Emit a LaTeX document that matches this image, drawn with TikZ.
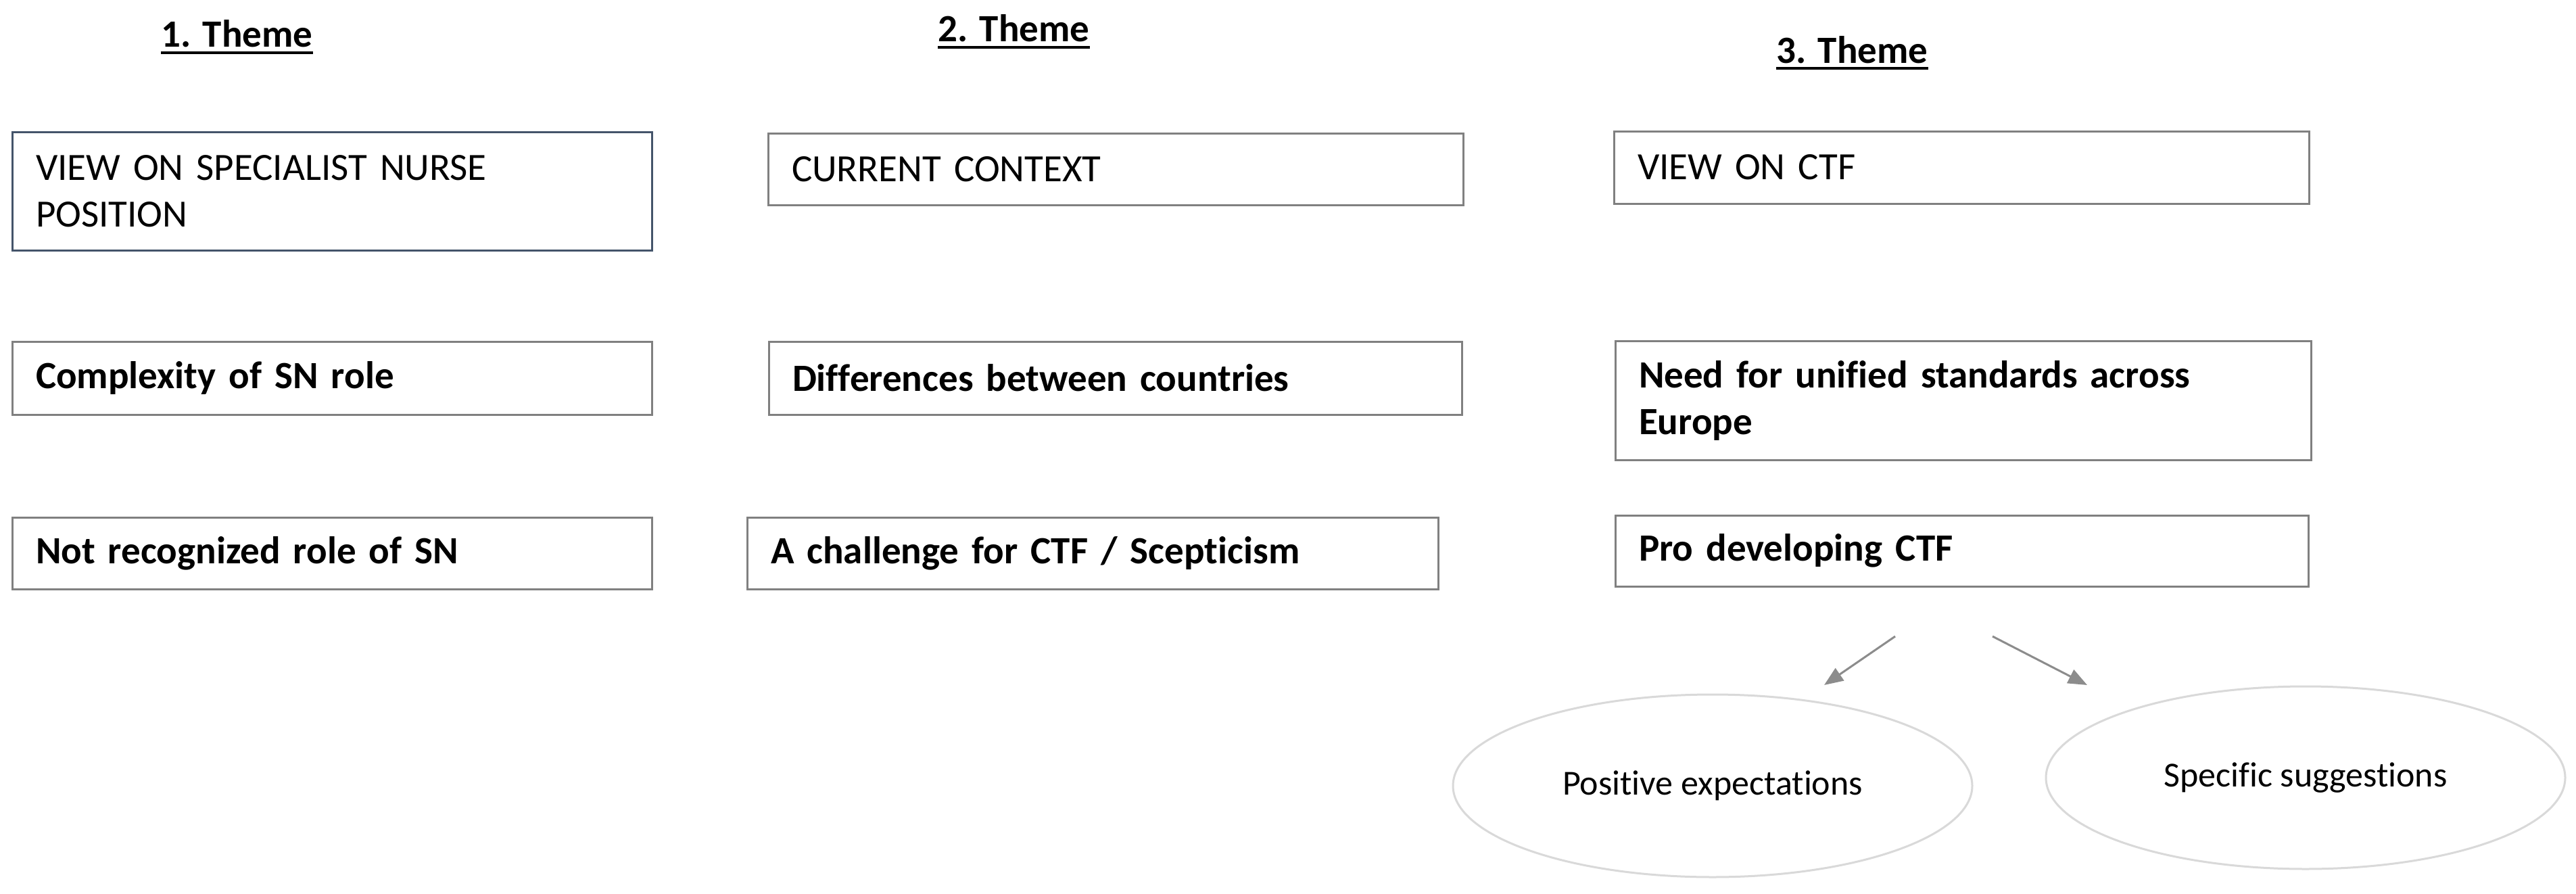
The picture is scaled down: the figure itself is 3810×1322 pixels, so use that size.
\documentclass[tikz,border=0pt]{standalone}
\usepackage{fontspec}
\setmainfont[Ligatures=NoCommon]{Carlito}
\usetikzlibrary{shapes.geometric,arrows.meta}
\definecolor{boxgray}{HTML}{808080}
\definecolor{boxdark}{HTML}{44546A}
\definecolor{ellgray}{HTML}{D9D9D9}
\definecolor{arrgray}{HTML}{8C8C8C}
\begin{document}
\begin{tikzpicture}[x=1pt,y=-1pt,
  plainbox/.style={draw=boxgray, line width=3pt, rectangle, inner xsep=35pt, inner ysep=0pt,
    align=left, font=\fontsize{57}{69}\selectfont},
  boldbox/.style={plainbox, font=\fontsize{57}{69}\selectfont\bfseries},
  themetitle/.style={inner sep=0pt, anchor=base, font=\fontsize{57}{69}\selectfont\bfseries},
  uline/.style={line width=4pt, black},
  oval/.style={ellipse, draw=ellgray, line width=3pt, inner sep=0pt,
    minimum width=768pt, minimum height=270pt, font=\fontsize{52}{62}\selectfont},
  conn/.style={draw=arrgray, line width=3pt, -{Triangle[length=28pt,width=22pt]}, arrgray}
]
\fill[white] (0,0) rectangle (3810,1322);
\useasboundingbox (0,0) rectangle (3810,1322);

% theme titles
\node[themetitle] (t1) at (350.5,70) {1. Theme};
\node[themetitle] (t2) at (1499.5,62) {2. Theme};
\node[themetitle] (t3) at (2739.5,93) {3. Theme};
\draw[uline] ([yshift=-8pt]t1.base west) -- ([yshift=-8pt]t1.base east);
\draw[uline] ([yshift=-8pt]t2.base west) -- ([yshift=-8pt]t2.base east);
\draw[uline] ([yshift=-8pt]t3.base west) -- ([yshift=-8pt]t3.base east);

% row 1
\node[plainbox, draw=boxdark, minimum width=946pt, text width=876pt, minimum height=175pt] (b1a) at (491,282.5)
  {VIEW ON SPECIALIST NURSE\\POSITION};
\node[plainbox, minimum width=1028pt, text width=958pt, minimum height=106pt] (b2a) at (1650,250)
  {CURRENT CONTEXT};
\node[plainbox, minimum width=1028pt, text width=958pt, minimum height=107pt] (b3a) at (2901,247.5)
  {VIEW ON CTF};

% row 2
\node[boldbox, minimum width=946pt, text width=876pt, minimum height=108pt] (b1b) at (491,559)
  {Complexity of SN role};
\node[boldbox, minimum width=1025pt, text width=955pt, minimum height=108pt] (b2b) at (1649.5,559)
  {Differences between countries};
\node[boldbox, minimum width=1029pt, text width=959pt, minimum height=176pt] (b3b) at (2903.5,592)
  {Need for unified standards across\\Europe};

% row 3
\node[boldbox, minimum width=946pt, text width=876pt, minimum height=106pt] (b1c) at (491,818)
  {Not recognized role of SN};
\node[boldbox, minimum width=1022pt, text width=952pt, minimum height=106pt] (b2c) at (1616,818)
  {A challenge for CTF / Scepticism};
\node[boldbox, minimum width=1025pt, text width=955pt, minimum height=105pt] (b3c) at (2901.5,814.5)
  {Pro developing CTF};

% ellipses
\node[oval] (e1) at (2533,1162) {Positive expectations};
\node[oval] (e2) at (3410,1150) {Specific suggestions};

% arrows
\coordinate (a1s) at (2803,941);
\coordinate (a1e) at (2698,1013);
\coordinate (a2s) at (2947,941);
\coordinate (a2e) at (3087,1013);
\draw[conn] (a1s) -- (a1e);
\draw[conn] (a2s) -- (a2e);
\end{tikzpicture}
\end{document}
